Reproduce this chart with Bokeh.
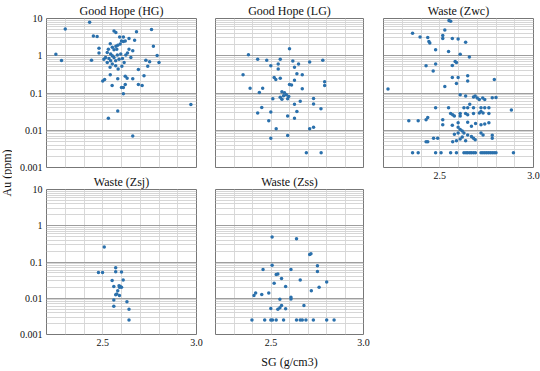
from math import pi
from bokeh.plotting import figure
from bokeh.layouts import row, column
from bokeh.models import (Range1d, FixedTicker, Grid, CustomJSTickFormatter, Label,
                          ColumnDataSource)
from bokeh.embed import file_html
from bokeh.resources import INLINE

# ---------------- data ----------------
hg_sg = [2.43, 2.30, 2.76, 2.56, 2.57, 2.68, 2.45, 2.47, 2.59, 2.61, 2.64, 2.62, 2.60, 2.67,
         2.77, 2.48, 2.54, 2.57, 2.58, 2.61, 2.53, 2.56, 2.64, 2.66, 2.48, 2.25, 2.79, 2.28,
         2.44, 2.73, 2.75, 2.80, 2.74,
         2.524, 2.542, 2.551, 2.515, 2.533, 2.56, 2.578, 2.596, 2.569, 2.587, 2.605, 2.614,
         2.551, 2.569, 2.602, 2.542, 2.524, 2.623, 2.632, 2.575, 2.551, 2.593, 2.582, 2.539,
         2.65, 2.506,
         2.69, 2.72, 2.62, 2.63, 2.54, 2.58, 2.66, 2.51, 2.50, 2.55, 2.62, 2.69, 2.71, 2.60,
         2.61, 2.61, 2.97, 2.58, 2.53, 2.66]
hg_au = [7.9, 5.2, 5.1, 4.6, 4.2, 4.4, 3.4, 3.3, 3.2, 3.2, 2.9, 2.5, 2.5, 2.6,
         1.8, 1.6, 2.1, 1.8, 1.9, 2.4, 1.5, 1.45, 1.5, 1.36, 1.18, 1.09, 1.02, 0.75,
         0.76, 0.76, 0.69, 0.66, 0.52,
         1.23, 1.11, 1.0, 0.9, 0.85, 0.9, 1.04, 1.11, 0.73, 0.81, 0.85, 0.66,
         0.6, 0.54, 0.52, 0.73, 0.66, 1.04, 1.18, 1.5, 1.68, 2.06, 0.44, 0.49,
         0.9, 0.81,
         0.43, 0.29, 0.28, 0.25, 0.31, 0.24, 0.24, 0.23, 0.21, 0.16, 0.17, 0.17, 0.16, 0.14,
         0.14, 0.095, 0.049, 0.033, 0.021, 0.007]

lg_sg = [2.60, 2.378, 2.428, 2.477, 2.55, 2.618, 2.709, 2.78, 2.539, 2.649, 2.499, 2.627,
         2.539, 2.64, 2.669, 2.349, 2.517, 2.526, 2.55, 2.627, 2.79, 2.79, 2.60, 2.611,
         2.387, 2.455, 2.669, 2.437, 2.559, 2.573, 2.583, 2.596, 2.568, 2.55, 2.559, 2.59,
         2.51, 2.73, 2.73, 2.658, 2.627, 2.77, 2.45, 2.428, 2.499, 2.64, 2.59, 2.627,
         2.488, 2.73, 2.709, 2.528, 2.59, 2.499, 2.691, 2.771]
lg_au = [1.54, 1.06, 0.81, 0.76, 0.8, 0.72, 0.68, 0.76, 0.6, 0.6, 0.54, 0.49,
         0.44, 0.33, 0.31, 0.31, 0.26, 0.23, 0.25, 0.22, 0.2, 0.16, 0.17, 0.165,
         0.135, 0.135, 0.13, 0.103, 0.108, 0.102, 0.09, 0.08, 0.085, 0.077, 0.068, 0.07,
         0.07, 0.071, 0.051, 0.06, 0.05, 0.038, 0.041, 0.029, 0.031, 0.032, 0.024, 0.021,
         0.018, 0.012, 0.011, 0.011, 0.0072, 0.0061, 0.0025, 0.0025]

zwc_sg = [2.549, 2.558, 2.527, 2.355, 2.395, 2.436, 2.516, 2.516, 2.442, 2.447, 2.567, 2.598,
          2.638, 2.478, 2.547, 2.609, 2.658, 2.582, 2.589, 2.478, 2.427, 2.567, 2.465, 2.567,
          2.598, 2.649, 2.649, 2.791, 2.527, 2.589, 2.224, 2.609,
          2.638, 2.68, 2.689, 2.70, 2.711, 2.729, 2.74, 2.78, 2.80, 2.66,
          2.629, 2.649, 2.68, 2.72, 2.74, 2.762, 2.478, 2.547, 2.882,
          2.558, 2.569, 2.578, 2.609, 2.609, 2.638, 2.649, 2.68, 2.711, 2.72, 2.731, 2.762,
          2.427, 2.436, 2.335, 2.385, 2.516, 2.516, 2.567, 2.598, 2.598,
          2.649, 2.669, 2.691, 2.72, 2.74, 2.762,
          2.609, 2.62, 2.598, 2.578, 2.629, 2.649, 2.669, 2.68, 2.689, 2.72, 2.731, 2.78,
          2.78, 2.638, 2.589, 2.569, 2.609, 2.62, 2.427, 2.436, 2.489, 2.467,
          2.355, 2.385, 2.478, 2.507, 2.558, 2.589, 2.629, 2.64, 2.649, 2.66, 2.669, 2.68,
          2.69, 2.72, 2.73, 2.74, 2.75, 2.76, 2.77, 2.78, 2.79, 2.80, 2.893]
zwc_au = [8.8, 8.5, 4.9, 4.0, 3.2, 3.1, 3.5, 2.9, 2.4, 2.2, 2.9, 2.8,
          2.3, 1.45, 1.3, 1.09, 0.92, 0.7, 0.66, 0.6, 0.54, 0.55, 0.39, 0.26,
          0.26, 0.29, 0.21, 0.23, 0.15, 0.18, 0.128, 0.09,
          0.083, 0.078, 0.083, 0.073, 0.067, 0.073, 0.067, 0.075, 0.076, 0.05,
          0.04, 0.04, 0.04, 0.04, 0.04, 0.04, 0.04, 0.04, 0.035,
          0.028, 0.026, 0.024, 0.028, 0.024, 0.028, 0.026, 0.028, 0.029, 0.032, 0.029, 0.028,
          0.019, 0.022, 0.018, 0.018, 0.019, 0.014, 0.0137, 0.016, 0.012,
          0.0165, 0.0128, 0.0152, 0.014, 0.0148, 0.0158,
          0.0104, 0.0096, 0.0085, 0.0078, 0.0085, 0.0075, 0.0068, 0.0061, 0.0056, 0.0085, 0.0075, 0.0073,
          0.0061, 0.0052, 0.0052, 0.0049, 0.0058, 0.0066, 0.0049, 0.0049, 0.0061, 0.0061,
          0.0025, 0.0025, 0.0025, 0.0025, 0.0025, 0.0025, 0.0025, 0.0025, 0.0025, 0.0025, 0.0025, 0.0025,
          0.0025, 0.0025, 0.0025, 0.0025, 0.0025, 0.0025, 0.0025, 0.0025, 0.0025, 0.0025, 0.0025]

zsj_sg = [2.508, 2.477, 2.499, 2.569, 2.569, 2.60, 2.609, 2.55, 2.559, 2.587, 2.593, 2.60,
          2.589, 2.58, 2.575, 2.589, 2.569, 2.559, 2.629, 2.559, 2.64, 2.64]
zsj_au = [0.26, 0.051, 0.051, 0.069, 0.054, 0.053, 0.032, 0.031, 0.021, 0.022, 0.021, 0.02,
          0.02, 0.016, 0.013, 0.012, 0.0125, 0.009, 0.008, 0.006, 0.005, 0.0025]

zss_sg = [2.506, 2.638, 2.709, 2.716, 2.506, 2.751, 2.751, 2.457, 2.608, 2.528, 2.537, 2.557,
          2.658, 2.517, 2.801, 2.579, 2.76, 2.718, 2.488, 2.417, 2.408, 2.45, 2.608, 2.608,
          2.548, 2.678, 2.557, 2.548, 2.537, 2.499, 2.579,
          2.397, 2.466, 2.499, 2.508, 2.528, 2.568, 2.638, 2.658, 2.669, 2.689, 2.729, 2.801, 2.841]
zss_au = [0.49, 0.44, 0.16, 0.17, 0.081, 0.079, 0.055, 0.062, 0.062, 0.045, 0.047, 0.035,
          0.032, 0.026, 0.028, 0.021, 0.020, 0.016, 0.014, 0.014, 0.012, 0.0126, 0.0107, 0.0095,
          0.0094, 0.0063, 0.0063, 0.0055, 0.005, 0.0052, 0.0051,
          0.0025, 0.0025, 0.0025, 0.0025, 0.0025, 0.0025, 0.0025, 0.0025, 0.0025, 0.0025, 0.0025, 0.0025, 0.0025]

titles = ["Good Hope (HG)", "Good Hope (LG)", "Waste (Zwc)", "Waste (Zsj)", "Waste (Zss)"]
y_major = [0.001, 0.01, 0.1, 1, 10]
x_labels = [2.5, 3.0]
x_grid = [2.3, 2.4, 2.5, 2.6, 2.7, 2.8, 2.9]
x_label = "SG (g/cm3)"
y_label = "Au (ppm)"

FONT = "Liberation Serif, serif"
DOT = "#2a70ac"


def panel(title, sg, au, show_x, show_y, width, height, xlabel=None,
          left=9, right=10, top=18, bottom=5):
    p = figure(width=width, height=height, output_backend="svg", toolbar_location=None,
               x_range=Range1d(2.2, 3.0), y_range=Range1d(0.001, 10), y_axis_type="log",
               x_axis_location="below" if show_x else None,
               y_axis_location="left" if show_y else None,
               min_border_left=left, min_border_right=right,
               min_border_top=top, min_border_bottom=bottom)
    p.center = [c for c in p.center if not isinstance(c, Grid)]
    minor = [k * 10.0 ** e for e in range(-3, 1) for k in range(2, 10)]
    p.add_layout(Grid(dimension=0, ticker=FixedTicker(ticks=x_grid),
                      grid_line_color="#d9d9d9"), "center")
    p.add_layout(Grid(dimension=1, ticker=FixedTicker(ticks=[0.01, 0.1, 1], minor_ticks=minor),
                      grid_line_color="#9e9e9e", minor_grid_line_color="#d6d6d6"), "center")
    p.outline_line_color = "#777777"
    p.outline_line_width = 1
    p.title.text = title
    p.title.align = "center"
    p.title.text_font = FONT
    p.title.text_font_size = "12px"
    p.title.text_font_style = "normal"
    p.title.text_color = "#111111"
    p.title.standoff = 1
    if show_y:
        ax = p.yaxis[0]
        ax.ticker = FixedTicker(ticks=y_major)
        ax.formatter = CustomJSTickFormatter(code="return tick.toString()")
    if show_x:
        ax = p.xaxis[0]
        ax.ticker = FixedTicker(ticks=x_labels)
        ax.formatter = CustomJSTickFormatter(code="return tick.toFixed(1)")
        if xlabel:
            ax.axis_label = xlabel
            ax.axis_label_text_font = FONT
            ax.axis_label_text_font_size = "12px"
            ax.axis_label_text_font_style = "normal"
            ax.axis_label_text_color = "#111111"
            ax.axis_label_standoff = 6
    for ax in p.axis:
        ax.axis_line_color = None
        ax.major_tick_line_color = None
        ax.minor_tick_line_color = None
        ax.major_tick_out = 0
        ax.major_tick_in = 0
        ax.major_label_standoff = 4
        ax.major_label_text_font = FONT
        ax.major_label_text_font_size = "10px"
        ax.major_label_text_color = "#111111"
    src = ColumnDataSource(dict(sg=sg, au=au))
    p.scatter("sg", "au", source=src, size=3.5, fill_color=DOT, line_color=None)
    return p


f1 = panel(titles[0], hg_sg, hg_au, False, True, 194, 172, left=34)
f2 = panel(titles[1], lg_sg, lg_au, False, False, 167, 172)
f3 = panel(titles[2], zwc_sg, zwc_au, True, False, 167, 184, left=10, right=7, bottom=17)
f4 = panel(titles[3], zsj_sg, zsj_au, True, True, 194, 199, left=34, top=14, bottom=37)
f5 = panel(titles[4], zss_sg, zss_au, True, False, 167, 199, xlabel=x_label, top=14, bottom=37)

lab = figure(width=12, height=344, output_backend="svg", toolbar_location=None,
             x_axis_location=None, y_axis_location=None, min_border=0,
             x_range=Range1d(0, 1), y_range=Range1d(0, 1), outline_line_color=None)
lab.center = [c for c in lab.center if not isinstance(c, Grid)]
lab.add_layout(Label(x=0.5, y=0.5, text=y_label, angle=pi / 2, text_align="center",
                     text_baseline="middle", text_font=FONT, text_font_size="12px",
                     text_color="#111111"))

layout = row(lab, column(f1, f4), column(f2, f5), f3)

with open("out.html", "w") as fh:
    fh.write(file_html(layout, INLINE))
